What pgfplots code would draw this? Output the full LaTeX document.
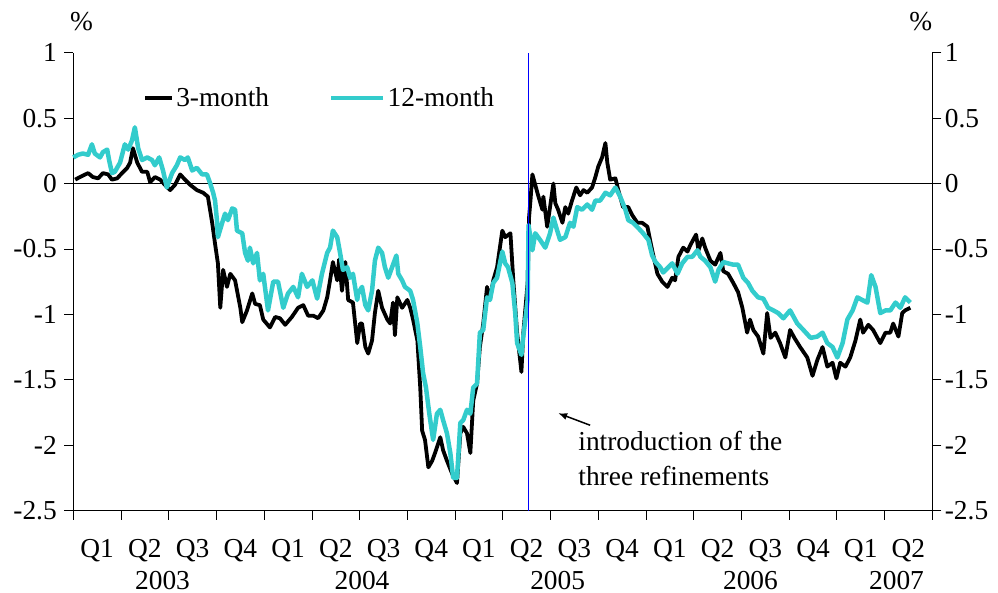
\documentclass[border=0pt]{standalone}
\usepackage{pgfplots}
\pgfplotsset{compat=1.18}
\usetikzlibrary{arrows.meta}
\usepackage{fontspec}
\setmainfont{Liberation Serif}
\definecolor{tq}{RGB}{51,204,204}
\newcommand{\lf}{\fontsize{27.5}{30}\selectfont}
\begin{document}
\begin{tikzpicture}
\begin{axis}[
 width=859bp, height=457.7bp, scale only axis,
 xmin=0, xmax=18, ymin=-2.5, ymax=1, clip=false,
 axis x line*=bottom, axis y line*=left,
 axis line style={-, line width=0.8bp},
 xtick={0,...,18}, xticklabels={},
 extra x ticks={0.5,1.5,...,17.5},
 extra x tick labels={Q1,Q2,Q3,Q4,Q1,Q2,Q3,Q4,Q1,Q2,Q3,Q4,Q1,Q2,Q3,Q4,Q1,Q2},
 extra x tick style={major tick length=0pt, xticklabel style={anchor=base, yshift=-46.5bp}},
 ytick={-2.5,-2,-1.5,-1,-0.5,0,0.5,1},
 yticklabels={-2.5,-2,-1.5,-1,-0.5,0,0.5,1},
 tick align=outside, major tick length=9bp,
 tick style={black, line width=0.8bp},
 tick label style={font=\lf},
 yticklabel style={anchor=east, xshift=-4bp},
 legend columns=2,
 legend style={draw=none, fill=none, at={(axis description cs:0.0815,0.901)}, anchor=west,
   font=\lf, inner sep=0pt, /tikz/every even column/.append style={column sep=58bp}},
 legend cell align=left,
]
\addplot[black, line width=0.8bp, forget plot] coordinates {(0,0) (18,0)};
\addplot[black, line width=3.8bp, line join=round,
  legend image code/.code={\draw[black,line width=3.8bp] (0bp,0bp) -- (27bp,0bp);}] coordinates {
(0.04,0.03)(0.14,0.05)(0.31,0.08)(0.41,0.05)(0.52,0.04)(0.62,0.08)(0.73,0.07)(0.81,0.03)(0.92,0.04)(1.02,0.08)(1.13,0.12)(1.19,0.16)(1.25,0.27)(1.34,0.16)(1.44,0.09)(1.55,0.09)(1.61,0.01)(1.71,0.05)(1.82,0.03)(1.92,-0.01)(2.03,-0.05)(2.13,-0.01)(2.24,0.07)(2.34,0.03)(2.45,-0.01)(2.59,-0.05)(2.72,-0.07)(2.82,-0.10)(2.91,-0.30)(2.97,-0.46)(3.03,-0.61)(3.08,-0.95)(3.14,-0.66)(3.22,-0.79)(3.29,-0.69)(3.39,-0.74)(3.50,-0.95)(3.54,-1.06)(3.64,-0.97)(3.75,-0.84)(3.81,-0.92)(3.91,-0.93)(3.98,-1.04)(4.12,-1.10)(4.23,-1.02)(4.33,-1.03)(4.44,-1.08)(4.58,-1.02)(4.71,-0.95)(4.82,-0.93)(4.92,-1.01)(5.03,-1.01)(5.13,-1.03)(5.24,-0.97)(5.32,-0.87)(5.38,-0.74)(5.44,-0.60)(5.53,-0.74)(5.57,-0.58)(5.63,-0.82)(5.70,-0.60)(5.76,-0.89)(5.86,-0.91)(5.95,-1.22)(6.01,-1.07)(6.05,-1.07)(6.12,-1.25)(6.18,-1.30)(6.26,-1.20)(6.32,-0.99)(6.39,-0.82)(6.47,-0.95)(6.58,-1.04)(6.64,-1.07)(6.70,-0.91)(6.74,-1.16)(6.79,-0.87)(6.89,-0.95)(7.00,-0.89)(7.06,-0.95)(7.12,-1.04)(7.21,-1.20)(7.27,-1.56)(7.31,-1.89)(7.37,-1.96)(7.44,-2.17)(7.52,-2.12)(7.58,-2.06)(7.69,-1.94)(7.75,-2.04)(7.83,-2.12)(7.94,-2.22)(8.04,-2.29)(8.11,-1.91)(8.17,-1.86)(8.25,-1.91)(8.32,-2.06)(8.38,-1.66)(8.46,-1.53)(8.52,-1.25)(8.59,-1.07)(8.67,-0.79)(8.73,-0.89)(8.80,-0.74)(8.88,-0.64)(8.99,-0.36)(9.05,-0.41)(9.16,-0.38)(9.22,-0.74)(9.30,-1.14)(9.39,-1.44)(9.43,-1.14)(9.52,-0.76)(9.55,-0.26)(9.58,-0.13)(9.62,0.07)(9.68,-0.01)(9.74,-0.09)(9.83,-0.20)(9.85,-0.10)(9.93,-0.33)(9.99,-0.18)(10.06,0.00)(10.10,-0.15)(10.16,-0.20)(10.25,-0.30)(10.31,-0.18)(10.37,-0.23)(10.45,-0.13)(10.54,-0.03)(10.62,-0.09)(10.69,-0.05)(10.77,-0.07)(10.87,-0.03)(10.94,0.05)(11.00,0.13)(11.08,0.20)(11.15,0.31)(11.19,0.16)(11.25,0.03)(11.36,0.04)(11.42,-0.05)(11.52,-0.18)(11.63,-0.18)(11.71,-0.24)(11.82,-0.30)(11.92,-0.30)(12.03,-0.33)(12.13,-0.51)(12.24,-0.69)(12.34,-0.75)(12.45,-0.79)(12.55,-0.72)(12.61,-0.74)(12.68,-0.56)(12.78,-0.49)(12.87,-0.52)(12.93,-0.47)(13.05,-0.39)(13.10,-0.51)(13.18,-0.42)(13.24,-0.49)(13.35,-0.59)(13.45,-0.62)(13.56,-0.53)(13.62,-0.67)(13.72,-0.69)(13.83,-0.76)(13.93,-0.83)(14.02,-0.95)(14.12,-1.14)(14.18,-1.04)(14.25,-1.12)(14.35,-1.17)(14.46,-1.30)(14.54,-0.99)(14.61,-1.18)(14.71,-1.14)(14.81,-1.22)(14.92,-1.33)(15.02,-1.12)(15.11,-1.18)(15.23,-1.25)(15.38,-1.33)(15.49,-1.47)(15.59,-1.35)(15.70,-1.25)(15.80,-1.40)(15.91,-1.37)(15.99,-1.49)(16.07,-1.37)(16.18,-1.40)(16.28,-1.33)(16.39,-1.20)(16.49,-1.04)(16.55,-1.14)(16.66,-1.08)(16.76,-1.12)(16.91,-1.22)(17.02,-1.14)(17.12,-1.14)(17.18,-1.07)(17.29,-1.17)(17.37,-0.99)(17.43,-0.97)(17.54,-0.95)
};
\addlegendentry{3-month}
\addplot[tq, line width=4.5bp, line join=round,
  legend image code/.code={\draw[tq,line width=4.5bp] (0bp,0bp) -- (52bp,0bp);}] coordinates {
(0.00,0.20)(0.10,0.22)(0.20,0.23)(0.31,0.22)(0.39,0.30)(0.45,0.23)(0.56,0.20)(0.62,0.24)(0.71,0.26)(0.75,0.18)(0.81,0.08)(0.87,0.09)(0.98,0.16)(1.08,0.30)(1.15,0.26)(1.23,0.33)(1.29,0.43)(1.36,0.27)(1.44,0.18)(1.55,0.20)(1.65,0.18)(1.71,0.14)(1.80,0.20)(1.88,0.10)(1.96,-0.03)(2.07,0.08)(2.17,0.14)(2.24,0.20)(2.34,0.18)(2.40,0.20)(2.49,0.10)(2.59,0.12)(2.70,0.07)(2.80,0.07)(2.87,0.00)(2.93,-0.07)(2.97,-0.13)(3.01,-0.28)(3.03,-0.41)(3.12,-0.30)(3.18,-0.23)(3.24,-0.28)(3.33,-0.19)(3.39,-0.20)(3.43,-0.36)(3.54,-0.38)(3.60,-0.53)(3.66,-0.59)(3.70,-0.49)(3.77,-0.61)(3.85,-0.53)(3.91,-0.74)(3.98,-0.69)(4.08,-0.97)(4.19,-0.75)(4.29,-0.75)(4.40,-0.95)(4.50,-0.84)(4.61,-0.79)(4.71,-0.87)(4.79,-0.69)(4.90,-0.79)(5.01,-0.74)(5.11,-0.88)(5.21,-0.69)(5.32,-0.53)(5.38,-0.49)(5.44,-0.36)(5.53,-0.41)(5.59,-0.53)(5.65,-0.66)(5.74,-0.64)(5.80,-0.72)(5.86,-0.69)(5.95,-0.89)(5.97,-0.84)(6.05,-0.79)(6.12,-0.93)(6.18,-0.97)(6.26,-0.82)(6.32,-0.59)(6.39,-0.49)(6.47,-0.53)(6.53,-0.64)(6.60,-0.72)(6.68,-0.64)(6.77,-0.55)(6.81,-0.69)(6.89,-0.74)(6.95,-0.79)(7.06,-0.82)(7.12,-0.89)(7.21,-1.07)(7.27,-1.25)(7.33,-1.45)(7.39,-1.56)(7.46,-1.76)(7.54,-1.96)(7.62,-1.76)(7.69,-1.73)(7.75,-1.81)(7.83,-1.91)(7.90,-2.06)(7.96,-2.25)(8.04,-2.25)(8.11,-1.83)(8.17,-1.81)(8.25,-1.73)(8.32,-1.76)(8.38,-1.56)(8.46,-1.53)(8.52,-1.14)(8.59,-1.12)(8.67,-0.87)(8.73,-0.89)(8.80,-0.76)(8.88,-0.72)(8.99,-0.52)(9.05,-0.61)(9.11,-0.64)(9.20,-0.76)(9.26,-0.99)(9.30,-1.22)(9.39,-1.31)(9.43,-1.17)(9.52,-0.89)(9.54,-0.32)(9.62,-0.51)(9.68,-0.38)(9.78,-0.43)(9.89,-0.49)(9.99,-0.38)(10.06,-0.26)(10.14,-0.36)(10.20,-0.43)(10.31,-0.41)(10.41,-0.30)(10.48,-0.33)(10.56,-0.18)(10.66,-0.20)(10.77,-0.16)(10.87,-0.20)(10.94,-0.13)(11.04,-0.13)(11.15,-0.07)(11.25,-0.09)(11.36,-0.03)(11.46,-0.10)(11.57,-0.20)(11.63,-0.28)(11.73,-0.30)(11.84,-0.34)(11.94,-0.38)(12.05,-0.43)(12.13,-0.55)(12.20,-0.60)(12.30,-0.64)(12.36,-0.68)(12.47,-0.64)(12.55,-0.61)(12.66,-0.69)(12.76,-0.61)(12.87,-0.56)(12.97,-0.56)(13.08,-0.51)(13.14,-0.56)(13.24,-0.59)(13.35,-0.64)(13.45,-0.75)(13.52,-0.66)(13.62,-0.60)(13.72,-0.61)(13.83,-0.62)(13.93,-0.62)(14.04,-0.72)(14.14,-0.76)(14.23,-0.82)(14.35,-0.87)(14.46,-0.88)(14.56,-0.95)(14.67,-0.97)(14.77,-0.99)(14.88,-1.03)(15.02,-0.97)(15.17,-1.07)(15.30,-1.12)(15.45,-1.18)(15.59,-1.17)(15.70,-1.14)(15.80,-1.22)(15.91,-1.25)(16.01,-1.33)(16.12,-1.22)(16.22,-1.04)(16.33,-0.97)(16.43,-0.87)(16.53,-0.89)(16.64,-0.91)(16.72,-0.70)(16.81,-0.79)(16.91,-0.99)(17.02,-0.97)(17.12,-0.97)(17.23,-0.91)(17.33,-0.95)(17.43,-0.87)(17.54,-0.91)
};
\addlegendentry{12-month}
\addplot[blue, line width=1bp, forget plot] coordinates {(9.54,-2.5) (9.54,1)};
\draw[-{Latex[length=9bp,width=7bp]}, line width=1.5bp] (axis cs:10.83,-1.848) -- (axis cs:10.16,-1.756);
\node[font=\lf, anchor=base west, inner sep=0pt] at (axis cs:10.58,-2.039) {introduction of the};
\node[font=\lf, anchor=base west, inner sep=0pt] at (axis cs:10.58,-2.307) {three refinements};
\node[font=\lf, anchor=base west, inner sep=0pt, yshift=21.8bp] at (rel axis cs:-0.004,1) {\%};
\node[font=\lf, anchor=base east, inner sep=0pt, yshift=21.8bp] at (rel axis cs:1,1) {\%};
\node[font=\lf, anchor=base, inner sep=0pt, yshift=-78.5bp] at (axis cs:1.87,-2.5) {2003};
\node[font=\lf, anchor=base, inner sep=0pt, yshift=-78.5bp] at (axis cs:6.05,-2.5) {2004};
\node[font=\lf, anchor=base, inner sep=0pt, yshift=-78.5bp] at (axis cs:10.15,-2.5) {2005};
\node[font=\lf, anchor=base, inner sep=0pt, yshift=-78.5bp] at (axis cs:14.19,-2.5) {2006};
\node[font=\lf, anchor=base, inner sep=0pt, yshift=-78.5bp] at (axis cs:17.25,-2.5) {2007};
\end{axis}
\begin{axis}[
 width=859bp, height=457.7bp, scale only axis,
 xmin=0, xmax=18, ymin=-2.5, ymax=1,
 axis x line=none, axis y line*=right,
 axis line style={-, line width=0.8bp},
 ytick={-2.5,-2,-1.5,-1,-0.5,0,0.5,1},
 yticklabels={-2.5,-2,-1.5,-1,-0.5,0,0.5,1},
 tick align=outside, major tick length=9bp,
 tick style={black, line width=0.8bp},
 yticklabel style={anchor=west, font=\lf},
]
\addplot[draw=none, forget plot] coordinates {(0,0)};
\end{axis}
\pgfresetboundingbox
\path[use as bounding box] (-73.3bp,-82.5bp) rectangle (924.7bp,510.5bp);
\end{tikzpicture}
\end{document}
